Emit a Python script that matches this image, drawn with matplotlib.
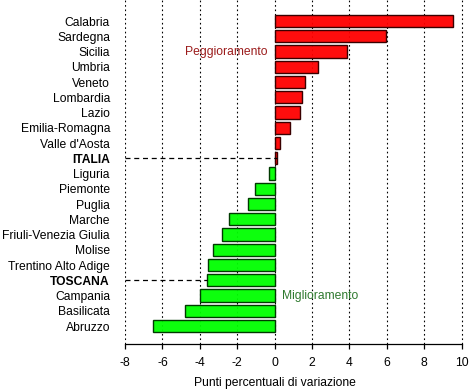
import numpy as np
import matplotlib.pyplot as plt

# data, top to bottom as in the chart
regioni = ["Calabria", "Sardegna", "Sicilia", "Umbria", "Veneto", "Lombardia",
           "Lazio", "Emilia-Romagna", "Valle d'Aosta", "ITALIA", "Liguria",
           "Piemonte", "Puglia", "Marche", "Friuli-Venezia Giulia", "Molise",
           "Trentino Alto Adige", "TOSCANA", "Campania", "Basilicata", "Abruzzo"]
variazione = [9.56, 5.97, 3.89, 2.32, 1.62, 1.48, 1.35, 0.82, 0.28, 0.14, -0.32,
              -1.05, -1.43, -2.46, -2.81, -3.29, -3.58, -3.61, -4.0, -4.8, -6.49]
evidenziate = ["ITALIA", "TOSCANA"]
xticks = [-8, -6, -4, -2, 0, 2, 4, 6, 8, 10]

plt.rcParams['font.family'] = ['Liberation Sans', 'DejaVu Sans']
fs = 8.7

fig = plt.figure(figsize=(4.7, 3.89), dpi=100)
ax = fig.add_axes([125 / 470, 45 / 389, 343.5 / 470, 344 / 389])

n = len(regioni)
ypos = np.arange(n)[::-1]
facecol = [(1, 0, 0, 0.95) if v > 0 else (0, 1, 0, 0.95) for v in variazione]
edgecol = ['#3a0000' if v > 0 else '#003a00' for v in variazione]

# vertical dotted grid, drawn under the semi-transparent bars
for t in xticks:
    ax.axvline(t, color='black', linestyle=(0, (1.5, 2.5)), linewidth=0.8, zorder=1)

ax.barh(ypos, variazione, height=0.8, color=facecol, edgecolor=edgecol,
        linewidth=1.0, zorder=2)

# dashed reference lines for Italia and Toscana
for nome in evidenziate:
    i = regioni.index(nome)
    ax.plot([-8, variazione[i]], [ypos[i], ypos[i]], color='black',
            linestyle=(0, (4, 3)), linewidth=0.9, zorder=3)

ax.text(-0.4, ypos[2], "Peggioramento", color='#9b1c1c', fontsize=fs,
        ha='right', va='center')
ax.text(0.4, ypos[18], "Miglioramento", color='#2f7a2f', fontsize=fs,
        ha='left', va='center')

ax.set_xlim(-8, 10.37)
ax.set_ylim(-1.18, n - 1 + 1.38)
ax.set_yticks(ypos)
ax.set_yticklabels(regioni, fontsize=fs)
for lab in ax.get_yticklabels():
    if lab.get_text() in evidenziate:
        lab.set_fontweight('bold')
ax.tick_params(axis='y', length=0, pad=10.8)

ax.set_xticks(xticks)
ax.set_xticklabels([str(t) for t in xticks], fontsize=fs)
ax.tick_params(axis='x', length=3.6, width=0.9, pad=6)
ax.set_xlabel("Punti percentuali di variazione", fontsize=fs)
ax.xaxis.set_label_coords((0 + 8) / 18.37, -0.095)

for s in ['top', 'right', 'left']:
    ax.spines[s].set_visible(False)
ax.spines['bottom'].set_bounds(-8, 10)
ax.spines['bottom'].set_linewidth(0.9)

fig.savefig('out.png', dpi=100)
